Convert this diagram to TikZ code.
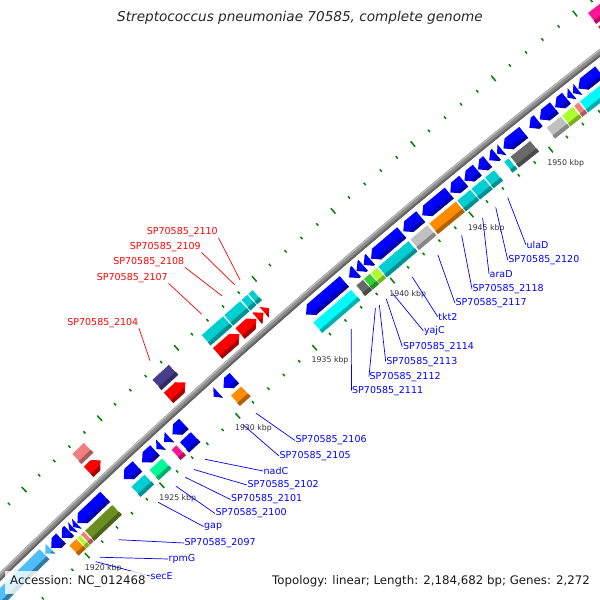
\documentclass[tikz,border=0pt]{standalone}
\usepackage{fontspec}
\setmainfont{DejaVu Sans}

\definecolor{cdsblue}{RGB}{0,0,255}
\definecolor{cdsred}{RGB}{255,0,0}
\definecolor{rnablue}{RGB}{80,190,250}
\definecolor{cogteal}{RGB}{0,206,209}
\definecolor{cogaqua}{RGB}{0,250,250}
\definecolor{cogorange}{RGB}{255,140,0}
\definecolor{cogsilver}{RGB}{192,192,192}
\definecolor{cogdim}{RGB}{105,105,105}
\definecolor{coglime}{RGB}{50,205,50}
\definecolor{cogyellow}{RGB}{173,255,47}
\definecolor{cogolive}{RGB}{107,142,35}
\definecolor{cogspring}{RGB}{0,250,154}
\definecolor{cogpink}{RGB}{255,20,147}
\definecolor{cogcoral}{RGB}{240,128,128}
\definecolor{cogslate}{RGB}{72,61,139}
\definecolor{tickgreen}{RGB}{0,128,0}
\definecolor{kbpgray}{RGB}{50,50,50}
\definecolor{bbmid}{RGB}{140,140,140}
\definecolor{bblight}{RGB}{185,185,185}
\definecolor{bbdark}{RGB}{100,100,100}

% radius of the inner ruler, angle of a position in kbp
\newcommand{\Rz}{7145}
\tikzset{declare function={kang(\p)=131.22-(\p-1935)*0.164784;}}

% coloured box in a slot at radius #3
\newcommand{\cogbox}[4]{%
  \filldraw[fill=#4,draw=white,line width=0.4pt]
    ({kang(#1)}:{\Rz+#3-7}) -- ({kang(#1)}:{\Rz+#3+7}) --
    ({kang(#2)}:{\Rz+#3+7}) -- ({kang(#2)}:{\Rz+#3-7}) -- cycle;
  \fill[fill=#4!70!black]
    ({kang(#1)}:{\Rz+#3-7}) -- ({kang(#1)}:{\Rz+#3-3}) --
    ({kang(#2)}:{\Rz+#3-3}) -- ({kang(#2)}:{\Rz+#3-7}) -- cycle;
}
% reverse strand arrow, tip at the start
\newcommand{\revcds}[3]{%
  \pgfmathsetmacro{\hd}{min(0.35,#2-#1)}
  \fill[fill=#3] ({kang(#1)}:{\Rz+30.5}) -- ({kang(#1+\hd)}:{\Rz+37.5}) --
    ({kang(#2)}:{\Rz+37.5}) -- ({kang(#2)}:{\Rz+23.5}) -- ({kang(#1+\hd)}:{\Rz+23.5}) -- cycle;
  \fill[fill=#3!65!black] ({kang(#1+0.571*\hd)}:{\Rz+27.5}) -- ({kang(#2)}:{\Rz+27.5}) --
    ({kang(#2)}:{\Rz+23.5}) -- ({kang(#1+\hd)}:{\Rz+23.5}) -- cycle;
}
% forward strand arrow, tip at the end
\newcommand{\fwdcds}[3]{%
  \pgfmathsetmacro{\hd}{min(0.35,#2-#1)}
  \fill[fill=#3] ({kang(#1)}:{\Rz+53}) -- ({kang(#1)}:{\Rz+67}) --
    ({kang(#2-\hd)}:{\Rz+67}) -- ({kang(#2)}:{\Rz+60}) -- ({kang(#2-\hd)}:{\Rz+53}) -- cycle;
  \fill[fill=#3!65!black] ({kang(#1)}:{\Rz+53}) -- ({kang(#1)}:{\Rz+57}) --
    ({kang(#2-0.571*\hd)}:{\Rz+57}) -- ({kang(#2-\hd)}:{\Rz+53}) -- cycle;
}

\begin{document}
\begin{tikzpicture}[x=1pt,y=1pt,
  revlabel/.style={anchor=west,inner sep=0.5pt,text=cdsblue,font=\fontsize{9.5}{11}\selectfont},
  fwdlabel/.style={anchor=east,inner sep=0.5pt,text=cdsred,font=\fontsize{9.5}{11}\selectfont},
  ticklabel/.style={text=kbpgray,inner sep=0pt,font=\fontsize{7.8}{9}\selectfont},
  revline/.style={cdsblue,line width=0.7pt},
  fwdline/.style={cdsred,line width=0.7pt}]
\useasboundingbox (0,0) rectangle (600,600);
\clip (0,0) rectangle (600,600);

\begin{scope}[shift={(5022.6,-5121.8)}]
  % rulers
  \foreach \k in {1905,...,1965}{
    \pgfmathsetmacro{\tl}{mod(\k,5)==0 ? 3.5 : 1.5}
    \draw[tickgreen,line width=1.5pt] ({kang(\k)}:{\Rz-\tl}) -- ({kang(\k)}:{\Rz+\tl});
    \draw[tickgreen,line width=1.5pt] ({kang(\k)}:{\Rz+91.5-\tl}) -- ({kang(\k)}:{\Rz+91.5+\tl});
  }
  \foreach \k in {1920,1925,...,1950}
    \node[ticklabel] (t\k) at ({kang(\k+0.15)}:{\Rz-20}) {\k\ kbp};

  % backbone
  \draw[line width=6.5pt,bbmid] ({kang(1905)}:{\Rz+45.5}) arc[start angle={kang(1905)},end angle={kang(1965)},radius=7190.5pt];
  \draw[line width=1.5pt,bblight] ({kang(1905)}:{\Rz+47.8}) arc[start angle={kang(1905)},end angle={kang(1965)},radius=7192.8pt];
  \draw[line width=2pt,bbdark] ({kang(1905)}:{\Rz+43.2}) arc[start angle={kang(1905)},end angle={kang(1965)},radius=7188.2pt];

  % reverse strand CDS
  \foreach \a/\b/\c in {1912/1918.55/rnablue, 1918.6/1918.95/rnablue,
      1919.0/1919.65/cdsblue, 1919.7/1920.2/cdsblue, 1920.22/1920.45/cdsblue,
      1920.47/1920.7/cdsblue, 1920.75/1922.6/cdsblue, 1923.85/1924.75/cdsblue,
      1925.05/1925.9/cdsblue, 1926.0/1926.3/cdsblue, 1926.5/1926.85/cdsblue,
      1927.05/1927.8/cdsblue, 1929.75/1930.05/cdsblue, 1930.4/1931.1/cdsblue,
      1935.75/1938.2/cdsblue, 1938.5/1938.95/cdsblue, 1938.98/1939.4/cdsblue,
      1939.43/1939.85/cdsblue, 1939.9/1941.85/cdsblue, 1941.95/1943.05/cdsblue,
      1943.15/1944.85/cdsblue, 1944.9/1945.75/cdsblue, 1945.8/1946.6/cdsblue,
      1946.65/1947.25/cdsblue, 1947.35/1947.8/cdsblue, 1947.85/1948.15/cdsblue,
      1948.25/1949.5/cdsblue, 1949.85/1950.4/cdsblue, 1950.5/1951.4/cdsblue,
      1951.45/1952.15/cdsblue, 1952.2/1952.5/cdsblue, 1952.55/1952.85/cdsblue,
      1952.9/1954.2/cdsblue, 1954.3/1955.6/cdsblue}
    \revcds{\a}{\b}{\c};

  % reverse strand COG boxes
  \foreach \a/\b/\c in {1919.7/1920.2/cogorange, 1920.22/1920.45/cogyellow,
      1920.47/1920.7/cogcoral, 1920.75/1922.6/cogolive, 1923.85/1924.75/cogteal,
      1925.05/1925.9/cogspring, 1926.5/1926.85/cogpink, 1927.05/1927.8/cdsblue,
      1930.4/1931.1/cogorange, 1935.75/1938.2/cogaqua, 1938.5/1938.95/cogdim,
      1938.98/1939.4/coglime, 1939.43/1939.85/cogyellow, 1939.9/1941.85/cogteal,
      1941.95/1943.05/cogsilver, 1943.15/1944.85/cogorange, 1944.9/1945.75/cogteal,
      1945.8/1946.6/cogteal, 1946.65/1947.25/cogteal, 1947.85/1948.15/cogteal,
      1948.25/1949.5/cogdim, 1950.5/1951.4/cogsilver, 1951.45/1952.15/cogyellow,
      1952.2/1952.5/cogcoral, 1952.55/1955.5/cogaqua}
    \cogbox{\a}{\b}{13}{\c};

  % forward strand
  \foreach \a/\b/\c in {1922.85/1923.65/cogcoral, 1928.1/1929.2/cogslate,
      1931.3/1932.7/cogteal, 1932.75/1933.8/cogteal, 1933.85/1934.25/cogteal,
      1934.3/1934.6/cogteal, 1955.5/1957.5/cogpink}{
    \fwdcds{\a}{\b}{cdsred}
    \cogbox{\a}{\b}{77.5}{\c}
  }

  % label anchors
  \coordinate (gsecE) at ({kang(1920.1)}:{\Rz-10});
  \coordinate (grpmG) at ({kang(1920.4)}:{\Rz-10});
  \coordinate (g2097) at ({kang(1921.65)}:{\Rz-10});
  \coordinate (ggap)  at ({kang(1924.3)}:{\Rz-10});
  \coordinate (g2100) at ({kang(1925.47)}:{\Rz-10});
  \coordinate (g2101) at ({kang(1926.1)}:{\Rz-10});
  \coordinate (g2102) at ({kang(1926.67)}:{\Rz-10});
  \coordinate (gnadC) at ({kang(1927.4)}:{\Rz-10});
  \coordinate (g2105) at ({kang(1929.9)}:{\Rz-10});
  \coordinate (g2106) at ({kang(1930.75)}:{\Rz-10});
  \coordinate (g2111) at ({kang(1936.95)}:{\Rz-10});
  \coordinate (g2112) at ({kang(1938.5)}:{\Rz-10});
  \coordinate (g2113) at ({kang(1938.75)}:{\Rz-10});
  \coordinate (g2114) at ({kang(1939.2)}:{\Rz-10});
  \coordinate (gyajC) at ({kang(1939.6)}:{\Rz-10});
  \coordinate (gtkt2) at ({kang(1940.85)}:{\Rz-10});
  \coordinate (g2117) at ({kang(1942.5)}:{\Rz-10});
  \coordinate (g2118) at ({kang(1944.0)}:{\Rz-10});
  \coordinate (garaD) at ({kang(1945.32)}:{\Rz-10});
  \coordinate (g2120) at ({kang(1946.15)}:{\Rz-10});
  \coordinate (gulaD) at ({kang(1946.9)}:{\Rz-10});
  \coordinate (g2104) at ({kang(1928.65)}:{\Rz+100});
  \coordinate (g2107) at ({kang(1931.98)}:{\Rz+100});
  \coordinate (g2108) at ({kang(1933.3)}:{\Rz+100});
  \coordinate (g2109) at ({kang(1934.1)}:{\Rz+100});
  \coordinate (g2110) at ({kang(1934.45)}:{\Rz+100});
\end{scope}

% labels
\node[revlabel] (lsecE) at (150,24)    {secE};
\node[revlabel] (lrpmG) at (168,41)    {rpmG};
\node[revlabel] (l2097) at (184,57)    {SP70585\_2097};
\node[revlabel] (lgap)  at (203.5,73.5) {gap};
\node[revlabel] (l2100) at (215,86.5)  {SP70585\_2100};
\node[revlabel] (l2101) at (230.5,100.5) {SP70585\_2101};
\node[revlabel] (l2102) at (247,115)   {SP70585\_2102};
\node[revlabel] (lnadC) at (263,129)   {nadC};
\node[revlabel] (l2105) at (279,144)   {SP70585\_2105};
\node[revlabel] (l2106) at (295,159.5) {SP70585\_2106};
\node[revlabel] (l2111) at (351.5,209.3) {SP70585\_2111};
\node[revlabel] (l2112) at (369,223.3) {SP70585\_2112};
\node[revlabel] (l2113) at (385.7,238.3) {SP70585\_2113};
\node[revlabel] (l2114) at (402.3,253.3) {SP70585\_2114};
\node[revlabel] (lyajC) at (423.3,269.3) {yajC};
\node[revlabel] (ltkt2) at (437.7,283.3) {tkt2};
\node[revlabel] (l2117) at (455,296.7) {SP70585\_2117};
\node[revlabel] (l2118) at (472,311)   {SP70585\_2118};
\node[revlabel] (laraD) at (489,326)   {araD};
\node[revlabel] (l2120) at (507.7,340) {SP70585\_2120};
\node[revlabel] (lulaD) at (526,355)   {ulaD};
\node[fwdlabel] (l2104) at (139,277)   {SP70585\_2104};
\node[fwdlabel] (l2107) at (168.5,322) {SP70585\_2107};
\node[fwdlabel] (l2108) at (185,338)   {SP70585\_2108};
\node[fwdlabel] (l2109) at (201.5,353) {SP70585\_2109};
\node[fwdlabel] (l2110) at (218.5,367.5) {SP70585\_2110};

\foreach \g in {secE,rpmG,2097,gap,2100,2101,2102,nadC,2105,2106,2111,2112,2113,2114,yajC,tkt2,2117,2118,araD,2120,ulaD}
  \draw[revline] (g\g) -- (l\g.west);
\foreach \g in {2104,2107,2108,2109,2110}
  \draw[fwdline] (g\g) -- (l\g.south east);

% title and legend
\node[text=black!85] (title) at (300,582) {\fontsize{13.6}{16}\selectfont\itshape Streptococcus pneumoniae 70585, complete genome};
\fill[white,opacity=0.8] (5,6) rectangle (147,29);
\node[anchor=west,inner sep=0pt,text=black!90] (acc) at (10,18.5) {\fontsize{11.8}{14}\selectfont Accession: NC\_012468};
\node[anchor=east,inner sep=0pt,text=black!90] (topo) at (590,18.5) {\fontsize{11.8}{14}\selectfont Topology: linear; Length: 2,184,682 bp; Genes: 2,272};
\end{tikzpicture}
\end{document}
